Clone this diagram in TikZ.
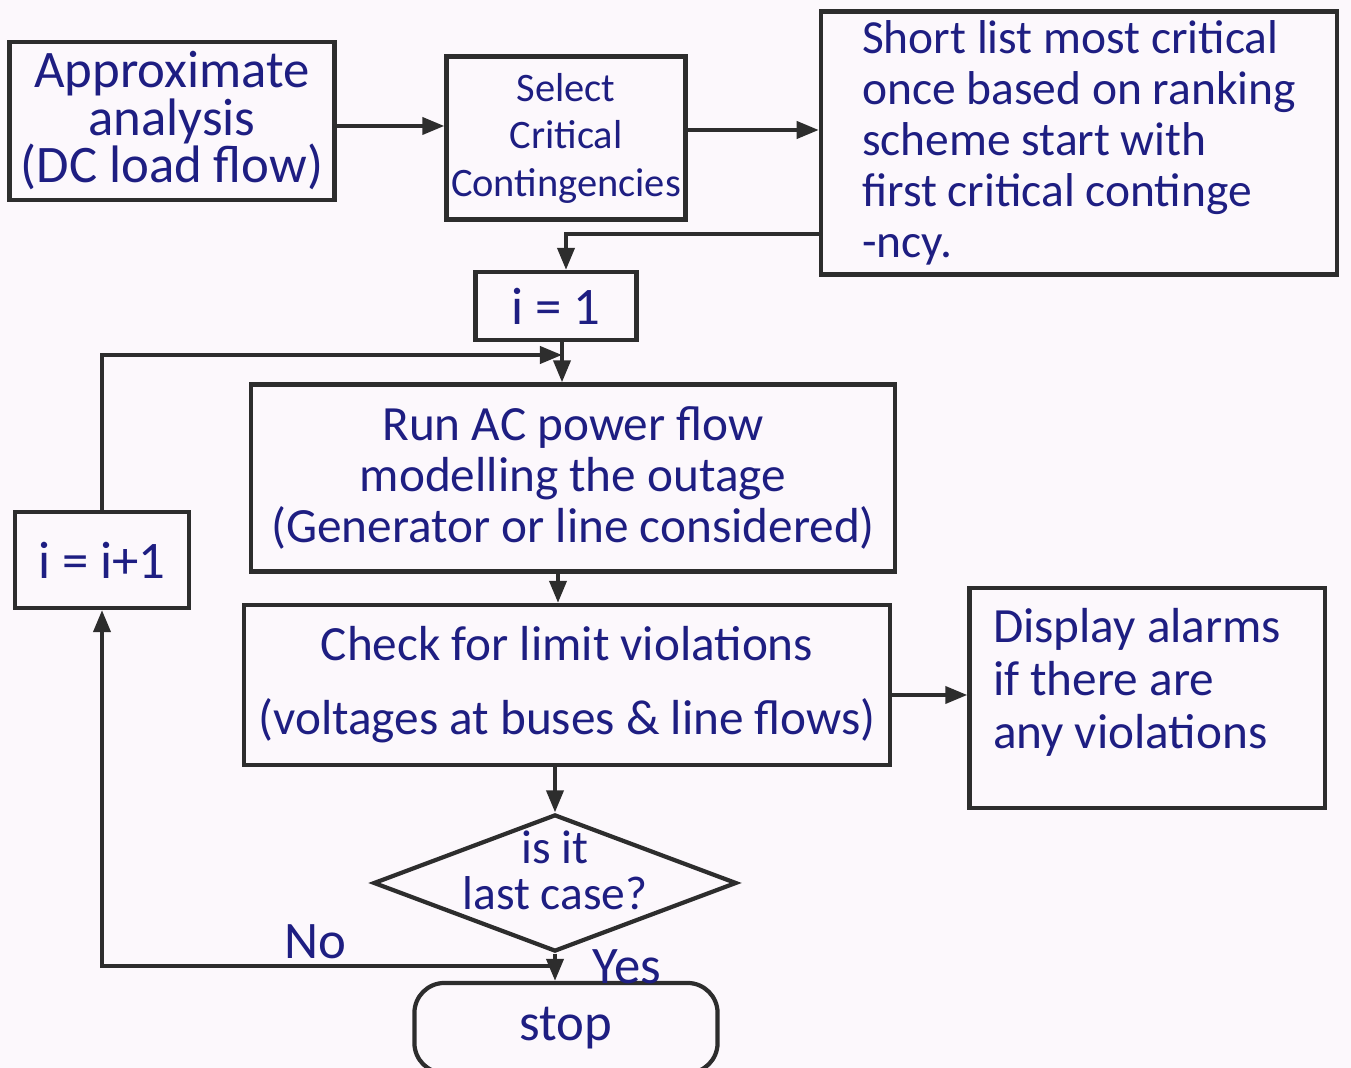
\documentclass[tikz,border=0pt]{standalone}
\usepackage{fontspec}
\setmainfont{Carlito}
\usetikzlibrary{shapes.geometric,arrows.meta}
\definecolor{ink}{RGB}{30,30,130}
\definecolor{pencil}{RGB}{45,45,45}
\definecolor{paper}{RGB}{252,248,252}
\begin{document}
\begin{tikzpicture}[x=0.01cm,y=-0.01cm,
  box/.style={draw=pencil,line width=1.2pt,rectangle,inner sep=2pt,align=center,
    text=ink,font=\fontsize{15}{13.5}\selectfont},
  arr/.style={draw=pencil,line width=1.1pt,-{Triangle[length=0.22cm,width=0.17cm]}},
  lbl/.style={text=ink,font=\fontsize{15}{15.5}\selectfont}]
\fill[paper] (0,0) rectangle (1351,1068);
\useasboundingbox (0,0) rectangle (1351,1068);

% process boxes
\node[box,minimum width=3.25cm,minimum height=1.58cm] (A) at (172,121)
  {Approximate\\analysis\\(DC load flow)};
\node[box,inner sep=1pt,minimum width=2.39cm,minimum height=1.63cm,font=\fontsize{11.5}{13.5}\selectfont] (B) at (566,138)
  {Select\\Critical\\Contingencies};
\node[box,minimum width=5.16cm,minimum height=2.63cm,align=left,
  font=\fontsize{13.5}{14.5}\selectfont] (C) at (1079,143)
  {Short list most critical\\once based on ranking\\scheme start with\\first critical continge\\-ncy.};
\node[box,minimum width=1.61cm,minimum height=0.68cm] (i1) at (556,306) {i = 1};
\node[box,minimum width=6.43cm,minimum height=1.87cm,font=\fontsize{14}{14.5}\selectfont] (run) at (573,478)
  {Run AC power flow\\modelling the outage\\(Generator or line considered)};
\node[box,minimum width=1.74cm,minimum height=0.96cm] (inc) at (102,560) {i = i+1};
\node[box,minimum width=6.45cm,minimum height=1.60cm,font=\fontsize{14}{21}\selectfont] (chk) at (567,685)
  {Check for limit violations\\(voltages at buses \& line flows)};
\node[box,minimum width=3.55cm,minimum height=2.20cm] (disp) at (1147,698) {};
\node[text=ink,font=\fontsize{14}{15}\selectfont,align=left,anchor=north west,inner sep=0pt] (disptxt)
  at ([xshift=0.25cm,yshift=-0.22cm]disp.north west) {Display alarms\\if there are\\any violations};

% decision and terminal
\node[draw=pencil,line width=1.2pt,diamond,aspect=2.65,minimum width=3.63cm,minimum height=1.37cm,
  inner sep=0pt] (dec) at (555,883) {};
\node[text=ink,align=center,font=\fontsize{13.5}{13}\selectfont] (dectxt) at (555,870) {is it\\last case?};
\node[box,rounded corners=0.3cm,minimum width=3.03cm,minimum height=0.9cm] (stop) at (566,1028) {stop};

% connectors
\coordinate (ab) at (0,126);
\coordinate (bc) at (0,130);
\coordinate (cj) at (566,234);
\coordinate (col) at (562,0);
\coordinate (lp) at (0,355);
\coordinate (col2) at (558,0);
\coordinate (cd) at (0,695);
\coordinate (nj) at (0,966);

\draw[arr] (A.east |- ab) -- (B.west |- ab);
\draw[arr] (B.east |- bc) -- (C.west |- bc);
\draw[arr] (C.west |- cj) -| (i1.north -| cj);
\draw[arr] (i1.south -| col) -- (run.north -| col);
\draw[arr] (inc.north) |- (col |- lp);
\draw[arr] (run.south -| col2) -- (chk.north -| col2);
\draw[arr] (chk.east |- cd) -- (disp.west |- cd);
\draw[arr] (chk.south -| dec.north) -- (dec.north);
\draw[arr] (dec.south) -- (stop.north -| dec.south);
\draw[arr] (dec.south |- nj) -| (inc.south);

% branch labels
\node[lbl] (no) at (315,942) {No};
\node[lbl] (yes) at (627,967) {Yes};
\end{tikzpicture}
\end{document}
